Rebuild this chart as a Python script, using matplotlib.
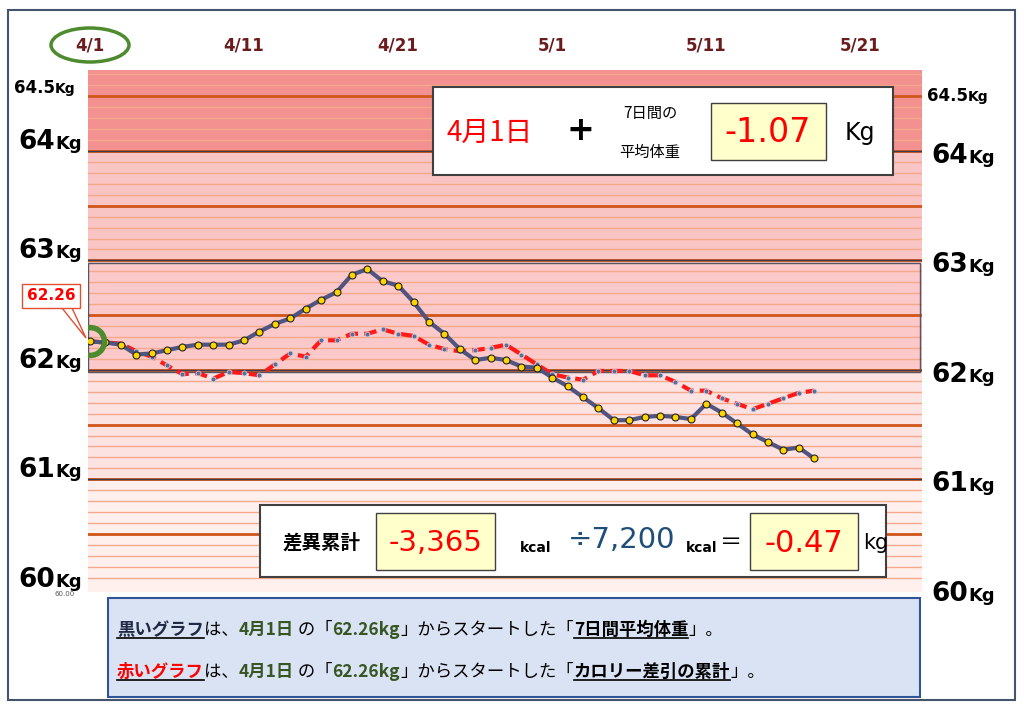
import matplotlib
matplotlib.use("Agg")
import matplotlib.pyplot as plt
from matplotlib.patches import Rectangle, Ellipse, Polygon
import numpy as np

JP = "Noto Sans CJK JP"
NARROW = ["Liberation Sans Narrow", "DejaVu Sans"]

date_labels = ["4/1", "4/11", "4/21", "5/1", "5/11", "5/21"]
date_pos = [0, 10, 20, 30, 40, 50]
avg7 = [62.26, 62.25, 62.23, 62.14, 62.15, 62.18, 62.21, 62.23, 62.23, 62.23,
        62.27, 62.35, 62.42, 62.47, 62.56, 62.64, 62.71, 62.87, 62.92, 62.81,
        62.77, 62.62, 62.44, 62.33, 62.19, 62.09, 62.11, 62.09, 62.03, 62.02,
        61.93, 61.85, 61.75, 61.65, 61.54, 61.54, 61.57, 61.58, 61.57, 61.55,
        61.69, 61.61, 61.51, 61.41, 61.34, 61.27, 61.29, 61.19]
calorie = [62.26, 62.25, 62.24, 62.17, 62.12, 62.04, 61.96, 61.97, 61.92, 61.98,
           61.97, 61.95, 62.05, 62.15, 62.12, 62.27, 62.27, 62.33, 62.33, 62.37,
           62.33, 62.31, 62.23, 62.19, 62.17, 62.18, 62.20, 62.23, 62.14, 62.05,
           61.96, 61.93, 61.91, 61.99, 61.99, 61.99, 61.95, 61.95, 61.89, 61.81,
           61.81, 61.74, 61.69, 61.64, 61.69, 61.74, 61.79, 61.81]
ylabels = [("64.5", 64.5), ("64", 64), ("63", 63), ("62", 62), ("61", 61), ("60", 60)]

W, H = 1024, 709
fig = plt.figure(figsize=(W/100, H/100), dpi=100)
fig.patch.set_facecolor("white")

def P(x, y):
    return (x / W, 1 - y / H)

fig.patches.append(Rectangle(P(8, 700), 1007/W, 690/H, transform=fig.transFigure,
                             fill=False, edgecolor="#44546a", lw=1.5))

ax = fig.add_axes([88/W, 1-592/H, (922-88)/W, (592-70)/H])
ax.set_xlim(-0.13, 54.0)
ax.set_ylim(59.97, 64.74)
ax.axis("off")

ax.axhspan(64, 64.74, color="#f39090", zorder=0)
ax.axhspan(63, 64, color="#f9c4c4", zorder=0)
ax.axhspan(62, 63, color="#fbc9c9", zorder=0)
ax.axhspan(61, 62, color="#fde2e2", zorder=0)
ax.axhspan(59.97, 61, color="#fff0ee", zorder=0)
for v in np.arange(60.1, 64.7, 0.1):
    ax.axhline(v, color="#f4a98a", lw=1, zorder=1)
for v in [60.5, 61.5, 62.5, 63.5, 64.5]:
    ax.axhline(v, color="#d0561b", lw=2, zorder=2)
for v in [61, 62, 63, 64]:
    ax.axhline(v, color="#c0501a", lw=2, zorder=2)
    ax.axhline(v, color="#3a3a50", lw=0.8, zorder=2)
ax.add_patch(Rectangle((-0.13, 61.98), 54.0, 1.0, fill=False, edgecolor="#555566", lw=1, zorder=2))

x = np.arange(len(avg7))
ax.plot(x, calorie, color="#ff1a1a", lw=3, ls=(0, (3, 1.5)), zorder=4)
ax.plot(x, calorie, ls="none", marker="o", ms=3.5, mfc="#5a6e9a", mec="#c8cce0", mew=0.6, zorder=5)
ax.plot(x, avg7, color="#4f5580", lw=3, marker="o", ms=5, mfc="#ffd400", mec="#222222", mew=0.8, zorder=6)
ax.plot([0], [avg7[0]], marker="o", ms=20, mfc="none", mec="#4e8a2e", mew=4, zorder=7)

for lab, d in zip(date_labels, date_pos):
    xx = ax.transData.transform((d, 62))[0]
    fig.text(xx / W, 1 - 45 / H, lab, ha="center", va="center", color="#6b1d1d",
             fontsize=12, fontweight="bold", fontfamily="DejaVu Sans")
x0 = ax.transData.transform((0, 62))[0]
fig.patches.append(Ellipse(P(x0, 45), 78/W, 34/H, transform=fig.transFigure,
                           fill=False, edgecolor="#4e8a2e", lw=2.5))

def ylab(xc, yc, num, big):
    fig.text(xc/W, 1-yc/H, num, ha="right", va="baseline", fontsize=19 if big else 12,
             fontweight="bold", fontfamily="DejaVu Sans", color="black")
    fig.text(xc/W, 1-yc/H, "Kg", ha="left", va="baseline", fontsize=13 if big else 10,
             fontweight="bold", fontfamily="DejaVu Sans", color="black")

for lab, v in ylabels:
    ypx = H - ax.transData.transform((0, v))[1]
    big = lab != "64.5"
    ylab(55, ypx - 2 if big else ypx - 3, lab, big)
    ylab(968, ypx + 12 if big else ypx + 5, lab, big)

fig.text(65/W, 1-594/H, "60.00", fontsize=5, color="#555555", ha="center", va="center")

fig.patches.append(Polygon([P(62, 308), P(72, 308), P(86, 338)], closed=True,
                           transform=fig.transFigure, facecolor="white", edgecolor="#e05030", lw=1))
fig.text(51/W, 1-296/H, "62.26", ha="center", va="center", fontsize=11, fontweight="bold",
         color="#ff0000", bbox=dict(boxstyle="square,pad=0.3", fc="white", ec="#e05030", lw=1))

def box(x1, y1, x2, y2, fc, ec, lw=1.5, z=10):
    fig.patches.append(Rectangle(P(x1, y2), (x2-x1)/W, (y2-y1)/H, transform=fig.transFigure,
                                 facecolor=fc, edgecolor=ec, lw=lw, zorder=z))

box(433, 87, 893, 175, "white", "#404040", 1.5)
fig.text(490/W, 1-133/H, "4月1日", ha="center", va="center", fontsize=20, color="#ff0000", fontfamily=JP, zorder=11)
fig.text(580/W, 1-131/H, "+", ha="center", va="center", fontsize=24, fontweight="bold", color="black", zorder=11)
fig.text(650/W, 1-113/H, "7日間の", ha="center", va="center", fontsize=11, fontfamily=JP, zorder=11)
fig.text(650/W, 1-152/H, "平均体重", ha="center", va="center", fontsize=11, fontfamily=JP, zorder=11)
box(711, 103, 826, 160, "#ffffcc", "#404040", 1)
fig.text(768/W, 1-133/H, "-1.07", ha="center", va="center", fontsize=24, color="#ff0000", fontfamily=NARROW, zorder=11)
fig.text(860/W, 1-133/H, "Kg", ha="center", va="center", fontsize=17, color="black", zorder=11)

box(260, 505, 886, 577, "white", "#404040", 1.5)
fig.text(322/W, 1-543/H, "差異累計", ha="center", va="center", fontsize=14, fontweight="bold", fontfamily=JP, zorder=11)
box(376, 513, 495, 570, "#ffffcc", "#404040", 1)
fig.text(436/W, 1-543/H, "-3,365", ha="center", va="center", fontsize=21, color="#ff0000", fontfamily=NARROW, zorder=11)
fig.text(536/W, 1-548/H, "kcal", ha="center", va="center", fontsize=10, fontweight="bold", zorder=11)
fig.text(622/W, 1-540/H, "÷7,200", ha="center", va="center", fontsize=21, color="#1f4e79", zorder=11)
fig.text(702/W, 1-548/H, "kcal", ha="center", va="center", fontsize=10, fontweight="bold", zorder=11)
fig.text(731/W, 1-542/H, "＝", ha="center", va="center", fontsize=16, fontfamily=JP, zorder=11)
box(750, 513, 858, 570, "#ffffcc", "#404040", 1)
fig.text(804/W, 1-543/H, "-0.47", ha="center", va="center", fontsize=22, color="#ff0000", fontfamily=NARROW, zorder=11)
fig.text(876/W, 1-543/H, "kg", ha="center", va="center", fontsize=15, zorder=11)

box(108, 598, 920, 697, "#dae3f3", "#2f5597", 1.5)
green = "#375623"
line1 = [("黒いグラフ", "#1f2a44", True, True), ("は、", "black", False, False),
         ("4月1日", green, True, False), (" の「", "black", False, False),
         ("62.26kg", green, True, False), ("」からスタートした「", "black", False, False),
         ("7日間平均体重", "black", True, True), ("」。", "black", False, False)]
line2 = [("赤いグラフ", "#ff0000", True, True), ("は、", "black", False, False),
         ("4月1日", green, True, False), (" の「", "black", False, False),
         ("62.26kg", green, True, False), ("」からスタートした「", "black", False, False),
         ("カロリー差引の累計", "black", True, True), ("」。", "black", False, False)]

fig.canvas.draw()
r = fig.canvas.get_renderer()
def seg_line(parts, xs, ys):
    xc = xs
    for s, c, b, u in parts:
        t = fig.text(xc/W, 1-ys/H, s, ha="left", va="center", fontsize=12.5, color=c,
                     fontweight="bold" if b else "normal", fontfamily=JP, zorder=11)
        bb = t.get_window_extent(renderer=r)
        if u:
            fig.add_artist(plt.Line2D([bb.x0/W, bb.x1/W], [(bb.y0+1)/H, (bb.y0+1)/H],
                                      color="black", lw=1.2, transform=fig.transFigure, zorder=11))
        xc += bb.width
seg_line(line1, 117, 630)
seg_line(line2, 117, 672)

fig.savefig("out.png", dpi=100)
